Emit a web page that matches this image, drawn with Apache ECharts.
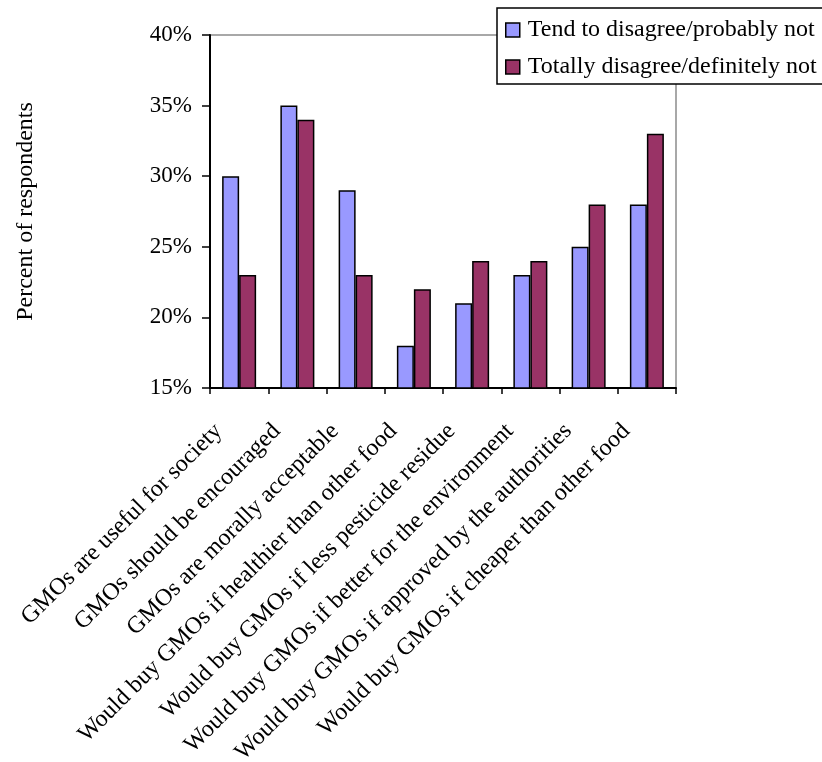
<!DOCTYPE html>
<html>
<head>
<meta charset="utf-8">
<script src="https://cdn.jsdelivr.net/npm/echarts@6/dist/echarts.min.js"></script>
<style>
html,body{margin:0;padding:0;background:#fff;}
#chart{width:822px;height:762px;}
</style>
</head>
<body>
<div id="chart"></div>
<script>
const categories = [
  "GMOs are useful for society",
  "GMOs should be encouraged",
  "GMOs are morally acceptable",
  "Would buy GMOs if healthier than other food",
  "Would buy GMOs if less pesticide residue",
  "Would buy GMOs if better for the environment",
  "Would buy GMOs if approved by the authorities",
  "Would buy GMOs if cheaper than other food"
];
const seriesNames = ["Tend to disagree/probably not", "Totally disagree/definitely not"];
const tendValues = [30, 35, 29, 18, 21, 23, 25, 28];
const totallyValues = [23, 34, 23, 22, 24, 24, 28, 33];
const yTicks = { min: 15, max: 40, interval: 5 };
const yAxisName = "Percent of respondents";

const font = "Liberation Serif";
const chart = echarts.init(document.getElementById('chart'), null, {renderer: 'canvas'});
chart.setOption({
  animation: false,
  backgroundColor: '#ffffff',
  grid: {
    left: 210, top: 35, right: 146, bottom: 374,
    containLabel: false, outerBoundsMode: 'none',
    show: true, borderColor: '#8c8c8c', borderWidth: 1.5, backgroundColor: 'transparent'
  },
  legend: {
    left: 497, top: 8,
    orient: 'vertical',
    padding: [10, 10, 5, 8],
    itemGap: 13,
    itemWidth: 14, itemHeight: 14,
    backgroundColor: '#ffffff',
    borderColor: '#000000', borderWidth: 1.5,
    icon: 'rect',
    itemStyle: { borderColor: '#000', borderWidth: 1.5 },
    textStyle: { fontFamily: font, fontSize: 24, color: '#000', padding: [0, 0, 0, 3] },
    data: seriesNames
  },
  xAxis: {
    type: 'category',
    data: categories,
    boundaryGap: true,
    axisLine: { lineStyle: { color: '#000', width: 2 } },
    axisTick: { show: true, length: 6, lineStyle: { color: '#000', width: 1.5 } },
    axisLabel: {
      interval: 0, rotate: 45, margin: 19,
      fontFamily: font, fontSize: 24, color: '#000',
      padding: [0, 29, 0, 0]
    }
  },
  yAxis: {
    type: 'value',
    min: yTicks.min, max: yTicks.max, interval: yTicks.interval,
    name: yAxisName,
    nameLocation: 'middle', nameRotate: 90, nameGap: 172,
    nameTextStyle: { fontFamily: font, fontSize: 24, color: '#000' },
    axisLine: { show: true, lineStyle: { color: '#000', width: 2 } },
    axisTick: { show: true, length: 8, lineStyle: { color: '#000', width: 1.5 } },
    splitLine: { show: false },
    axisLabel: {
      formatter: '{value}%', margin: 18,
      fontFamily: font, fontSize: 23, color: '#000'
    }
  },
  series: [
    {
      name: seriesNames[0], type: 'bar', data: tendValues,
      barWidth: 17, barGap: '0%',
      itemStyle: { color: '#9999FF', borderColor: '#000', borderWidth: 1.5 }
    },
    {
      name: seriesNames[1], type: 'bar', data: totallyValues,
      barWidth: 17, barGap: '0%',
      itemStyle: { color: '#993366', borderColor: '#000', borderWidth: 1.5 }
    }
  ]
});
</script>
</body>
</html>
